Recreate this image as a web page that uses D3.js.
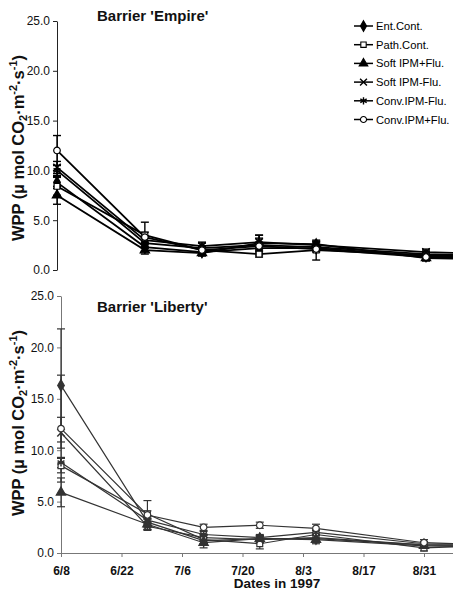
<!DOCTYPE html>
<html lang="en">
<head>
<meta charset="utf-8">
<title>WPP 1997</title>
<script src="https://cdn.jsdelivr.net/npm/d3@7"></script>
<style>
  body { margin: 0; background: #fff; }
  svg { font-family: "Liberation Sans", Arial, sans-serif; }
</style>
</head>
<body>
<script>
// sampling dates (the last one falls just past the right edge)
var dates = ["1997-06-08", "1997-06-28", "1997-07-11", "1997-07-24", "1997-08-06", "1997-08-31", "1997-09-14"];
var seriesNames = ["Ent.Cont.", "Path.Cont.", "Soft IPM+Flu.", "Soft IPM-Flu.", "Conv.IPM-Flu.", "Conv.IPM+Flu."];
var tickDates = ["1997-06-08", "1997-06-22", "1997-07-06", "1997-07-20", "1997-08-03", "1997-08-17", "1997-08-31"];
var yTicks = [0, 5, 10, 15, 20, 25];

// Barrier 'Empire'
var empEnt   = [8.8, 2.3, 1.8, 2.2, 2.2, 1.4, 1.3];
var empPath  = [8.4, 3.5, 2.0, 1.6, 2.0, 1.5, 1.5];
var empSoftP = [7.5, 2.0, 1.7, 2.7, 2.6, 1.2, 1.1];
var empSoftM = [10.3, 3.0, 2.4, 2.8, 2.5, 1.8, 1.6];
var empConvM = [10.0, 2.7, 2.2, 2.5, 2.3, 1.6, 1.4];
var empConvP = [12.0, 3.3, 2.0, 2.4, 2.1, 1.3, 1.2];
var empEntErr   = [0.6, 0.4, 0.3, 0.4, 0.3, 0.3, 0.2];
var empPathErr  = [0.9, 1.3, 0.4, 0.3, 1.0, 0.4, 0.3];
var empSoftPErr = [0.9, 0.4, 0.3, 0.5, 0.3, 0.3, 0.2];
var empSoftMErr = [0.6, 0.4, 0.4, 0.7, 0.3, 0.3, 0.2];
var empConvMErr = [0.5, 0.5, 0.5, 1.0, 0.3, 0.3, 0.2];
var empConvPErr = [1.5, 0.5, 0.4, 0.4, 0.3, 0.3, 0.2];

// Barrier 'Liberty'
var libEnt   = [16.3, 3.0, 1.2, 1.4, 1.4, 0.8, 0.7];
var libPath  = [8.5, 3.8, 1.3, 0.9, 1.8, 0.5, 0.7];
var libSoftP = [5.9, 2.8, 1.0, 1.4, 1.3, 0.7, 0.6];
var libSoftM = [11.7, 2.6, 1.5, 1.3, 1.5, 0.8, 0.7];
var libConvM = [8.8, 3.2, 1.8, 1.5, 2.0, 0.9, 0.8];
var libConvP = [12.1, 3.7, 2.5, 2.7, 2.4, 1.0, 0.8];
var libEntErr   = [5.5, 0.4, 0.3, 0.3, 0.3, 0.2, 0.2];
var libPathErr  = [0.7, 1.3, 0.4, 0.5, 0.4, 0.3, 0.2];
var libSoftPErr = [1.4, 0.5, 0.5, 0.3, 0.4, 0.2, 0.2];
var libSoftMErr = [1.5, 0.4, 0.3, 0.3, 0.3, 0.2, 0.2];
var libConvMErr = [0.5, 0.4, 0.3, 0.3, 0.3, 0.2, 0.2];
var libConvPErr = [5.2, 0.4, 0.3, 0.3, 0.4, 0.3, 0.2];

var parse = d3.timeParse("%Y-%m-%d");
var W = 453, H = 591;

var symbols = [
  { type: d3.symbolDiamond, size: 38, fill: true },
  { type: d3.symbolSquare, size: 34, fill: false },
  { type: d3.symbolTriangle, size: 38, fill: true },
  { type: d3.symbolTimes, size: 38, fill: false, stroke: true },
  { type: d3.symbolAsterisk, size: 44, fill: false, stroke: true },
  { type: d3.symbolCircle, size: 34, fill: false }
];

var svg = d3.select("body").append("svg").attr("width", W).attr("height", H);

function yTitle(g, cx, cy) {
  var t = g.append("text")
    .attr("transform", "translate(" + cx + "," + cy + ") rotate(-90)")
    .attr("text-anchor", "middle")
    .attr("font-weight", "bold")
    .attr("font-size", 16.5)
    .attr("fill", "#111");
  t.append("tspan").text("WPP (\u00b5 mol CO");
  t.append("tspan").attr("font-size", 11).attr("dy", 3).text("2");
  t.append("tspan").attr("dy", -3).text("\u00b7m");
  t.append("tspan").attr("font-size", 11).attr("dy", -7).text("-2");
  t.append("tspan").attr("dy", 7).text("\u00b7s");
  t.append("tspan").attr("font-size", 11).attr("dy", -7).text("-1");
  t.append("tspan").attr("dy", 7).text(")");
}

function drawPanel(opt) {
  var g = svg.append("g");
  var x = d3.scaleTime().domain([parse("1997-06-08"), parse("1997-08-31")]).range([opt.x0, opt.x1]);
  var y = d3.scaleLinear().domain([0, 25]).range([opt.yBottom, opt.yTop]);

  var clipId = "clip" + opt.id;
  svg.append("clipPath").attr("id", clipId).append("rect")
    .attr("x", opt.x0 - 10).attr("y", 0).attr("width", W - opt.x0 + 10).attr("height", H);

  // y axis
  var ya = g.append("g").attr("transform", "translate(" + opt.x0 + ",0)")
    .call(d3.axisLeft(y).tickValues(yTicks).tickFormat(d3.format(".1f")).tickSize(4).tickSizeOuter(0));
  ya.select(".domain").attr("stroke", opt.axisColor);
  ya.selectAll(".tick line").attr("stroke", opt.axisColor);
  ya.selectAll(".tick text").attr("font-size", 12).attr("fill", "#111")
    .attr("font-family", "Liberation Sans, Arial, sans-serif").attr("x", -7);

  if (opt.xAxis) {
    var xEnd = x.invert(W);
    var xa = d3.scaleTime().domain([parse("1997-06-08"), xEnd]).range([opt.x0, W]);
    var xg = g.append("g").attr("transform", "translate(0," + opt.yBottom + ")")
      .call(d3.axisBottom(xa).tickValues(tickDates.map(parse)).tickFormat(d3.timeFormat("%-m/%-d")).tickSize(4).tickSizeOuter(0));
    xg.select(".domain").attr("stroke", opt.axisColor);
    xg.selectAll(".tick line").attr("stroke", opt.axisColor);
    xg.selectAll(".tick text").attr("font-size", 12).attr("font-weight", "bold").attr("fill", "#111")
      .attr("font-family", "Liberation Sans, Arial, sans-serif").attr("y", 13);
    g.append("text").attr("x", 277).attr("y", 588).attr("text-anchor", "middle")
      .attr("font-size", 13.5).attr("font-weight", "bold").attr("fill", "#111").text("Dates in 1997");
  }

  g.append("text").attr("x", 97).attr("y", opt.titleY)
    .attr("font-size", 15).attr("font-weight", "bold").attr("fill", "#111").text(opt.title);

  yTitle(g, 24, opt.yTitleY);

  var plot = g.append("g").attr("clip-path", "url(#" + clipId + ")");
  var line = d3.line().x(function (d) { return x(d.date); }).y(function (d) { return y(d.v); });

  opt.series.forEach(function (vals, si) {
    var pts = vals.map(function (v, i) { return { date: parse(dates[i]), v: v, e: opt.errors[si][i] }; });
    plot.append("path").datum(pts).attr("d", line)
      .attr("fill", "none").attr("stroke", opt.lineColor).attr("stroke-width", opt.lineWidth);
    var eb = plot.append("g").attr("stroke", opt.lineColor).attr("stroke-width", opt.errWidth);
    pts.forEach(function (p) {
      var px = x(p.date);
      eb.append("line").attr("x1", px).attr("x2", px).attr("y1", y(p.v - p.e)).attr("y2", y(p.v + p.e));
      eb.append("line").attr("x1", px - 4).attr("x2", px + 4).attr("y1", y(p.v + p.e)).attr("y2", y(p.v + p.e));
      eb.append("line").attr("x1", px - 4).attr("x2", px + 4).attr("y1", y(p.v - p.e)).attr("y2", y(p.v - p.e));
    });
  });

  opt.series.forEach(function (vals, si) {
    var s = symbols[si];
    var pts = vals.map(function (v, i) { return { date: parse(dates[i]), v: v }; });
    plot.selectAll(null).data(pts).enter().append("path")
      .attr("transform", function (d) { return "translate(" + x(d.date) + "," + y(d.v) + ")"; })
      .attr("d", d3.symbol().type(s.type).size(s.size))
      .attr("fill", s.fill ? opt.lineColor : (s.stroke ? "none" : "#fff"))
      .attr("stroke", opt.lineColor).attr("stroke-width", s.stroke ? 1.5 : 1.2);
  });
}

drawPanel({
  id: "top", title: "Barrier 'Empire'", titleY: 21, x0: 57, x1: 426, yBottom: 270, yTop: 21,
  yTitleY: 148, xAxis: false, axisColor: "#222", lineColor: "#000", lineWidth: 1.8, errWidth: 1.4,
  series: [empEnt, empPath, empSoftP, empSoftM, empConvM, empConvP],
  errors: [empEntErr, empPathErr, empSoftPErr, empSoftMErr, empConvMErr, empConvPErr]
});

drawPanel({
  id: "bot", title: "Barrier 'Liberty'", titleY: 312, x0: 61, x1: 424, yBottom: 553, yTop: 296,
  yTitleY: 423, xAxis: true, axisColor: "#777", lineColor: "#333", lineWidth: 1.2, errWidth: 1.2,
  series: [libEnt, libPath, libSoftP, libSoftM, libConvM, libConvP],
  errors: [libEntErr, libPathErr, libSoftPErr, libSoftMErr, libConvMErr, libConvPErr]
});

// legend (top panel)
var leg = svg.append("g");
seriesNames.forEach(function (name, i) {
  var ly = 26 + i * 18.7;
  var s = symbols[i];
  leg.append("line").attr("x1", 354).attr("x2", 373).attr("y1", ly).attr("y2", ly)
    .attr("stroke", "#000").attr("stroke-width", 1.5);
  leg.append("path").attr("transform", "translate(363.5," + ly + ")")
    .attr("d", d3.symbol().type(s.type).size(s.size * 0.85))
    .attr("fill", s.fill ? "#000" : (s.stroke ? "none" : "#fff"))
    .attr("stroke", "#000").attr("stroke-width", s.stroke ? 1.4 : 1.1);
  leg.append("text").attr("x", 376).attr("y", ly + 4)
    .attr("font-size", 11.2).attr("fill", "#000").text(name);
});
</script>
</body>
</html>
